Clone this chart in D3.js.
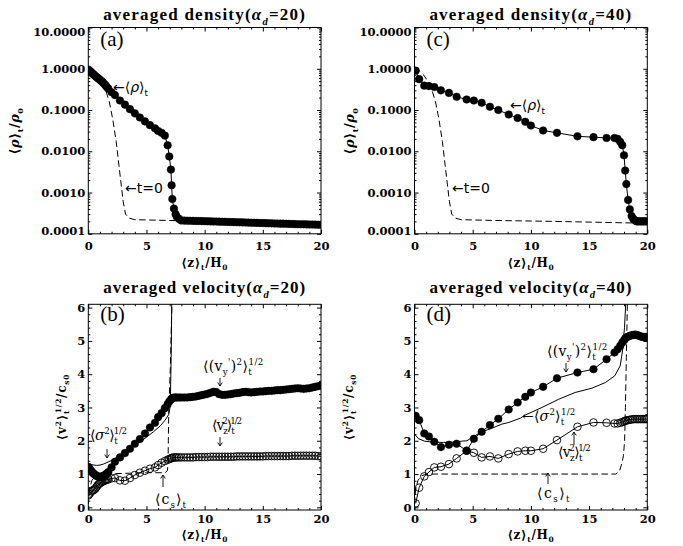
<!DOCTYPE html>
<html><head><meta charset="utf-8">
<script src="https://cdn.jsdelivr.net/npm/d3@7"></script>
<style>body{margin:0;background:#fff}svg{display:block}</style>
</head><body>
<svg id="c" width="683" height="546"></svg>
<script>
// ---------------- DATA ----------------
const xTickVals = [0, 5, 10, 15, 20];
const xTickLabels = ["0", "5", "10", "15", "20"];
const logTickVals = [1e-4, 1e-3, 1e-2, 1e-1, 1, 10];
const logTickLabels = ["0.0001", "0.0010", "0.0100", "0.1000", "1.0000", "10.0000"];
const linTickVals = [0, 1, 2, 3, 4, 5, 6];
const linTickLabels = ["0", "1", "2", "3", "4", "5", "6"];

// a_d = 20 run : Lagrangian grid positions <z>_t/H0
const zAB = [0,0.1,0.2,0.3,0.4,0.5,0.6,0.7,0.8,0.9,
  1.0,1.1,1.2,1.3,1.4,1.5,1.6,1.72,
  2.0,2.29,2.72,3.15,3.58,4.0,4.43,4.87,5.3,5.73,
  6.0,6.3,6.58,6.82,6.96,7.1,7.16,7.22,7.36,7.5,
  7.6,7.8,8.0,
  8.25,8.5,8.75,9,9.25,9.5,9.75,10,
  10.25,10.5,10.75,11,11.25,11.5,11.75,12,
  12.25,12.5,12.75,13,13.25,13.5,13.75,14,
  14.25,14.5,14.75,15,15.25,15.5,15.75,16,
  16.25,16.5,16.75,17,17.25,17.5,17.75,18,
  18.25,18.5,18.75,19,19.25,19.5,19.75,20];
const rhoA = [0.96,0.9,0.85,0.8,0.75,0.71,0.67,0.63,0.6,0.57,
  0.54,0.51,0.48,0.45,0.42,0.39,0.36,0.33,
  0.27,0.23,0.17,0.135,0.105,0.083,0.066,0.053,0.043,0.036,
  0.031,0.028,0.024,0.014,0.0075,0.0036,0.0015,0.0007,0.00041,0.0003,
  0.00026,0.00023,0.00021,
  2.09e-4,2.08e-4,2.07e-4,2.06e-4,2.05e-4,2.04e-4,2.03e-4,2.02e-4,
  2.01e-4,2.00e-4,1.99e-4,1.98e-4,1.97e-4,1.96e-4,1.95e-4,1.94e-4,
  1.93e-4,1.92e-4,1.91e-4,1.90e-4,1.89e-4,1.88e-4,1.87e-4,1.86e-4,
  1.85e-4,1.84e-4,1.83e-4,1.82e-4,1.81e-4,1.80e-4,1.79e-4,1.78e-4,
  1.77e-4,1.76e-4,1.76e-4,1.75e-4,1.74e-4,1.73e-4,1.72e-4,1.71e-4,
  1.70e-4,1.70e-4,1.69e-4,1.68e-4,1.68e-4,1.67e-4,1.66e-4,1.66e-4];
const vyB = [1.22,1.17,1.12,1.07,1.03,1.0,0.97,0.95,0.93,0.92,
  0.92,0.92,0.93,0.94,0.96,0.99,1.02,1.06,
  1.2,1.37,1.5,1.63,1.76,1.91,2.05,2.22,2.4,2.54,
  2.71,2.83,2.98,3.1,3.18,3.24,3.26,3.28,3.3,3.3,
  3.3,3.3,3.3,
  3.3,3.3,3.31,3.32,3.33,3.35,3.37,3.39,
  3.41,3.44,3.47,3.46,3.4,3.38,3.38,3.39,
  3.4,3.42,3.43,3.44,3.46,3.47,3.46,3.45,
  3.46,3.47,3.48,3.48,3.49,3.5,3.5,3.51,
  3.52,3.52,3.53,3.54,3.55,3.56,3.57,3.58,
  3.57,3.56,3.57,3.58,3.6,3.62,3.64,3.66];
const vzB = [0.36,0.4,0.45,0.49,0.51,0.53,0.56,0.61,0.66,0.7,
  0.72,0.75,0.77,0.79,0.8,0.82,0.83,0.84,
  0.87,0.88,0.81,0.8,0.88,0.97,1.04,1.1,1.16,1.2,
  1.27,1.34,1.39,1.43,1.45,1.47,1.48,1.49,1.5,1.5,
  1.5,1.5,1.5,
  1.50,1.50,1.50,1.50,1.51,1.51,1.51,1.51,
  1.51,1.52,1.52,1.52,1.52,1.52,1.52,1.52,
  1.52,1.52,1.53,1.53,1.53,1.53,1.53,1.53,
  1.53,1.53,1.53,1.53,1.54,1.54,1.54,1.54,
  1.54,1.54,1.54,1.54,1.54,1.55,1.55,1.55,
  1.55,1.55,1.55,1.55,1.55,1.55,1.54,1.53];
const zSigB = [0,0.3,0.7,1.0,1.3,1.7,2.1,2.7,3.6,4.7,5.6,6.2,6.6,6.9,7.0,7.06,7.12,7.18];
const sigB  = [1.3,1.28,1.26,1.27,1.3,1.36,1.43,1.55,1.78,2.03,2.27,2.45,2.62,2.78,2.95,3.3,4.5,6.3];
const zCsB = [0,0.1,0.3,0.6,1.1,3.0,5.0,6.6,6.8,6.85,6.88,6.92,6.97,7.05,7.12,7.2];
const csB  = [0.1,0.55,0.8,0.95,1.0,1.02,1.04,1.04,1.1,1.3,2.0,3.0,3.4,4.2,5.2,6.3];

// a_d = 40 run
const zCD = [0.1,0.4,0.84,1.24,1.7,2.27,2.96,3.62,4.48,5.1,
  5.77,6.48,7.2,8.09,8.86,9.52,10.0,11.05,12.24,14.0,
  15.38,16.5,17.18,17.45,17.67,17.85,18.0,18.1,18.2,18.35,
  18.5,18.65,18.8,18.95,19.1,19.25,19.4,19.55,19.7,19.85,20.0];
const rhoC = [0.9,0.56,0.39,0.38,0.36,0.3,0.26,0.21,0.18,0.17,
  0.15,0.12,0.1,0.078,0.064,0.052,0.042,0.032,0.028,0.023,
  0.022,0.021,0.021,0.02,0.017,0.014,0.008,0.0034,0.0016,0.00066,
  0.00039,0.00027,0.00023,0.00021,0.0002,0.0002,0.0002,0.0002,0.0002,0.0002,0.0002];
const vyD = [2.75,2.62,2.22,2.13,1.97,1.81,1.88,1.91,1.70,2.06,
  2.27,2.47,2.66,2.94,3.15,3.32,3.45,3.62,3.88,4.05,
  4.15,4.45,4.65,4.75,4.85,4.95,5.02,5.07,5.1,5.13,
  5.15,5.17,5.18,5.19,5.18,5.16,5.14,5.12,5.12,5.12,5.12];
const vzD = [0.12,0.59,0.93,1.06,1.2,1.22,1.3,1.47,1.7,1.64,
  1.5,1.53,1.47,1.6,1.68,1.7,1.7,1.76,2.02,2.42,
  2.55,2.54,2.52,2.52,2.54,2.56,2.58,2.6,2.61,2.62,
  2.63,2.64,2.65,2.65,2.65,2.65,2.65,2.65,2.65,2.65,2.65];
const zSigD = [0,0.35,0.85,1.5,2.5,3.5,4.1,4.5,5.1,5.77,6.6,7.5,8.1,9.1,9.5,10.95,12.4,13.8,15.24,16.4,17.2,17.67,17.87,18.04,18.16];
const sigD  = [2.2,2.06,1.99,1.96,1.95,1.96,1.99,2.0,2.13,2.27,2.37,2.5,2.55,2.68,2.77,3.0,3.25,3.45,3.58,3.75,3.95,4.25,4.7,5.4,6.2];
const zCsD = [0,0.1,0.3,0.6,1.1,5,10,15,17.3,17.6,17.8,17.95,18.05,18.12,18.2,18.3];
const csD  = [0.1,0.55,0.81,0.95,1.0,1.0,1.0,1.0,1.0,1.08,1.3,1.55,2.0,3.0,4.5,6.3];

// initial (t=0) density profile
const zInit   = [0,0.4,0.8,1.2,1.5,1.8,2.1,2.4,2.6,2.8,3.0,3.2,3.5,4.0,7.0,12,20];
const rhoInit = [1.0,0.9,0.7,0.47,0.3,0.16,0.06,0.017,0.0055,0.0018,0.0006,0.0003,0.00024,0.00022,0.00021,0.0002,0.00018];

// ---------------- DRAW ----------------
const svg = d3.select('#c');
const SERIF = "'DejaVu Serif', serif";
const TSERIF = "'Liberation Serif', 'Times New Roman', serif";
const SANS = "'DejaVu Sans', sans-serif";
const defs = svg.append('defs');

const panels = {
  a: {x0: 88.3, x1: 321, y0: 27.5, y1: 233.8, log: true, pad: 8.5},
  c: {x0: 414.5, x1: 647.3, y0: 27.5, y1: 233.8, log: true, pad: 8.5},
  b: {x0: 88.3, x1: 321, y0: 304.3, y1: 510, log: false, pad: 5},
  d: {x0: 414.5, x1: 647.3, y0: 304.3, y1: 510, log: false, pad: 5}
};

function rich(g, x, y, parts, o) {
  const fs = o.fs;
  const t = g.append('text').attr('x', x).attr('y', y)
    .attr('font-family', o.ff).attr('font-size', fs)
    .attr('font-weight', o.fw || 'normal')
    .attr('text-anchor', o.anchor || 'start').attr('fill', '#000');
  if (o.rot) t.attr('transform', `rotate(${o.rot},${x},${y})`);
  let cur = 0;
  parts.forEach(p => {
    const txt = p[0], kind = p[1], dx = p[2], st = p[3];
    const off = kind === 'sub' ? fs * 0.28 : kind === 'sup' ? -fs * 0.45 : 0;
    const s = t.append('tspan').text(txt).attr('dy', off - cur);
    cur = off;
    if (kind) s.attr('font-size', fs * 0.62);
    if (dx) s.attr('dx', dx);
    if (st === 'i') s.attr('font-style', 'italic');
  });
  if (o.width) {
    const w = t.node().getComputedTextLength();
    const n = t.text().length;
    t.attr('letter-spacing', ((o.width - w) / n).toFixed(3));
  }
  return t;
}

function arrow(g, x, yFrom, yTo) {
  const dir = yTo > yFrom ? -1 : 1;
  g.append('path')
    .attr('d', `M${x},${yFrom}L${x},${yTo}M${x - 2.3},${yTo + dir * 3.5}L${x},${yTo}L${x + 2.3},${yTo + dir * 3.5}`)
    .attr('fill', 'none').attr('stroke', '#000').attr('stroke-width', 0.9);
}

function addAxis(g, gen, tr, vals, size, fmt, pad) {
  const a = g.append('g').attr('transform', tr)
    .call(gen.tickValues(vals).tickSize(size).tickPadding(pad || 3).tickFormat(fmt || (() => '')));
  a.select('.domain').remove();
  a.selectAll('line').attr('stroke', '#000').attr('stroke-width', 1);
  a.selectAll('text').attr('font-family', SERIF).attr('font-size', 11.5)
    .attr('font-weight', 'bold').attr('fill', '#000');
  return a;
}

Object.entries(panels).forEach(([id, p]) => {
  p.x = d3.scaleLinear().domain([0, 20]).range([p.x0, p.x1]);
  p.y = p.log ? d3.scaleLog().domain([1e-4, 10]).range([p.y1, p.y0])
              : d3.scaleLinear().domain([-0.08, 6.1]).range([p.y1, p.y0]);
  const g = svg.append('g');
  p.g = g;
  defs.append('clipPath').attr('id', 'clip' + id).append('rect')
    .attr('x', p.x0).attr('y', p.y0).attr('width', p.x1 - p.x0).attr('height', p.y1 - p.y0);
  p.plot = g.append('g').attr('clip-path', `url(#clip${id})`);

  const xMinor = d3.range(0, 21, 1).filter(v => v % 5 !== 0);
  const yMaj = p.log ? logTickVals : linTickVals;
  const yLab = p.log ? logTickLabels : linTickLabels;
  let yMinor;
  if (p.log) { yMinor = []; for (let e = -4; e < 1; e++) for (let k = 2; k < 10; k++) yMinor.push(k * Math.pow(10, e)); }
  else { yMinor = d3.range(0, 30).map(i => i * 0.2).filter((v, i) => i % 5 !== 0); }

  addAxis(g, d3.axisBottom(p.x), `translate(0,${p.y1})`, xTickVals, -4, d => xTickLabels[xTickVals.indexOf(d)], p.pad);
  addAxis(g, d3.axisBottom(p.x), `translate(0,${p.y1})`, xMinor, -2);
  addAxis(g, d3.axisTop(p.x), `translate(0,${p.y0})`, xTickVals, -4);
  addAxis(g, d3.axisTop(p.x), `translate(0,${p.y0})`, xMinor, -2);
  const yl = addAxis(g, d3.axisLeft(p.y), `translate(${p.x0},0)`, yMaj, -4, d => yLab[yMaj.indexOf(d)], 3);
  addAxis(g, d3.axisLeft(p.y), `translate(${p.x0},0)`, yMinor, -2);
  addAxis(g, d3.axisRight(p.y), `translate(${p.x1},0)`, yMaj, -4);
  addAxis(g, d3.axisRight(p.y), `translate(${p.x1},0)`, yMinor, -2);
  if (p.log) {
    yl.selectAll('text').filter(d => d === 10).attr('dy', '0.7em');
    yl.selectAll('text').filter(d => d === 1e-4).attr('dy', '0.05em');
  }
  g.append('rect').attr('x', p.x0).attr('y', p.y0).attr('width', p.x1 - p.x0).attr('height', p.y1 - p.y0)
    .attr('fill', 'none').attr('stroke', '#000').attr('stroke-width', 1);
});

function pts(xs, ys) { return xs.map((z, i) => [z, ys[i]]); }
function line(p, xs, ys, dash, w) {
  const gen = d3.line().x(d => p.x(d[0])).y(d => p.y(d[1]));
  p.plot.append('path').attr('d', gen(pts(xs, ys))).attr('fill', 'none')
    .attr('stroke', '#000').attr('stroke-width', w || 1)
    .attr('stroke-dasharray', dash || null);
}
function dots(p, xs, ys, open, r) {
  p.plot.append('g').selectAll('circle').data(pts(xs, ys)).join('circle')
    .attr('cx', d => p.x(d[0])).attr('cy', d => p.y(d[1])).attr('r', r)
    .attr('fill', open ? 'none' : '#000').attr('stroke', '#000').attr('stroke-width', open ? 0.9 : 0.5);
}

const A = panels.a, B = panels.b, C = panels.c, D = panels.d;
line(A, zInit, rhoInit, '6.5,3.5');
line(A, zAB, rhoA);
dots(A, zAB, rhoA, false, 3.8);
line(C, zInit, rhoInit, '6.5,3.5');
line(C, zCD, rhoC);
dots(C, zCD, rhoC, false, 3.8);
line(B, zCsB, csB, '6.5,3.5');
line(B, zSigB, sigB);
line(B, zAB, vyB);
line(B, zAB, vzB);
dots(B, zAB, vyB, false, 3.8);
dots(B, zAB, vzB, true, 3.8);
line(D, zCsD, csD, '6.5,3.5');
line(D, zSigD, sigD);
line(D, zCD, vyD);
line(D, zCD, vzD);
dots(D, zCD, vyD, false, 3.8);
dots(D, zCD, vzD, true, 3.8);

// ---------------- TEXT ----------------
const T = svg.append('g');
function title(p, y, word, ad) {
  rich(T, (p.x0 + p.x1) / 2, y, [["averaged " + word + "("], ["α", 0, 0, 'i'], ["d", 'sub', 0, 'i'], ["=" + ad + ")"]],
    {ff: TSERIF, fs: 17, fw: 'bold', anchor: 'middle', width: 203});
}
title(A, 20, 'density', '20');
title(C, 20, 'density', '40');
title(B, 293, 'velocity', '20');
title(D, 293, 'velocity', '40');

const zTitle = [["⟨z⟩"], ["t", 'sub'], ["/H"], ["0", 'sub']];
[A, C].forEach(p => rich(T, (p.x0 + p.x1) / 2, 267, zTitle,
  {ff: SERIF, fs: 12, fw: 'bold', anchor: 'middle', width: 47}));
[B, D].forEach(p => rich(T, (p.x0 + p.x1) / 2, 539, zTitle,
  {ff: SERIF, fs: 12, fw: 'bold', anchor: 'middle', width: 47}));

const rhoTitle = [["⟨"], ["ρ", 0, 0, 'i'], ["⟩"], ["t", 'sub'], ["/"], ["ρ", 0, 0, 'i'], ["0", 'sub']];
rich(T, 19, 131, rhoTitle, {ff: SERIF, fs: 13, fw: 'bold', anchor: 'middle', rot: -90, width: 47});
rich(T, 354, 131, rhoTitle, {ff: SERIF, fs: 13, fw: 'bold', anchor: 'middle', rot: -90, width: 47});
const vTitle = [["⟨v"], ["2", 'sup'], ["⟩"], ["t", 'sub'], ["1/2", 'sup', -3.5], ["/c"], ["s0", 'sub']];
rich(T, 66, 407, vTitle, {ff: SERIF, fs: 12, fw: 'bold', anchor: 'middle', rot: -90, width: 70});
rich(T, 353, 407, vTitle, {ff: SERIF, fs: 12, fw: 'bold', anchor: 'middle', rot: -90, width: 70});

[["(a)", A, 46], ["(c)", C, 46], ["(b)", B, 321], ["(d)", D, 321]].forEach(([s, p, y]) =>
  T.append('text').attr('x', p.x0 + 12).attr('y', y).attr('font-family', TSERIF)
    .attr('font-size', 21).attr('fill', '#000').text(s));

const rhoLab = [["←⟨"], ["ρ", 0, 0, 'i'], ["⟩"], ["t", 'sub']];
rich(T, 113, 92, rhoLab, {ff: SANS, fs: 14});
rich(T, 510, 110, rhoLab, {ff: SANS, fs: 14});
rich(T, 125, 193, [["←t=0"]], {ff: SANS, fs: 14});
rich(T, 452, 193, [["←t=0"]], {ff: SANS, fs: 14});

const vyLab = [["⟨(v"], ["y", 'sub'], ["'", 'sup'], [")"], ["2", 'sup'], ["⟩"], ["t", 'sub'], ["1/2", 'sup', -3.5]];
const vzLab = [["⟨v"], ["z", 'sub'], ["2", 'sup', -4.5], ["⟩"], ["t", 'sub'], ["1/2", 'sup', -3.5]];
const sgLab = [["⟨"], ["σ", 0, 0, 'i'], ["2", 'sup'], ["⟩"], ["t", 'sub'], ["1/2", 'sup', -3.5]];
const csLab = [["⟨c"], ["s", 'sub'], ["⟩"], ["t", 'sub']];
const vo = {ff: SERIF, fs: 14};

rich(T, 203, 371, vyLab, Object.assign({width: 64}, vo));
arrow(T, 220, 378, 386);
rich(T, 212, 430, vzLab, Object.assign({width: 37}, vo));
arrow(T, 220, 437, 446);
rich(T, 90, 440, sgLab, Object.assign({width: 40}, vo));
arrow(T, 107, 449, 458);
rich(T, 155, 504, csLab, Object.assign({width: 32}, vo));
arrow(T, 163, 487, 475);

rich(T, 547, 356, vyLab, Object.assign({width: 64}, vo));
arrow(T, 566, 363, 372);
rich(T, 522, 421, [["←"]].concat(sgLab), Object.assign({width: 57}, vo));
arrow(T, 574, 445, 432);
rich(T, 558, 457, vzLab, Object.assign({width: 40}, vo));
arrow(T, 548, 484, 473);
rich(T, 537, 498, csLab, Object.assign({width: 34}, vo));
</script>
</body></html>
